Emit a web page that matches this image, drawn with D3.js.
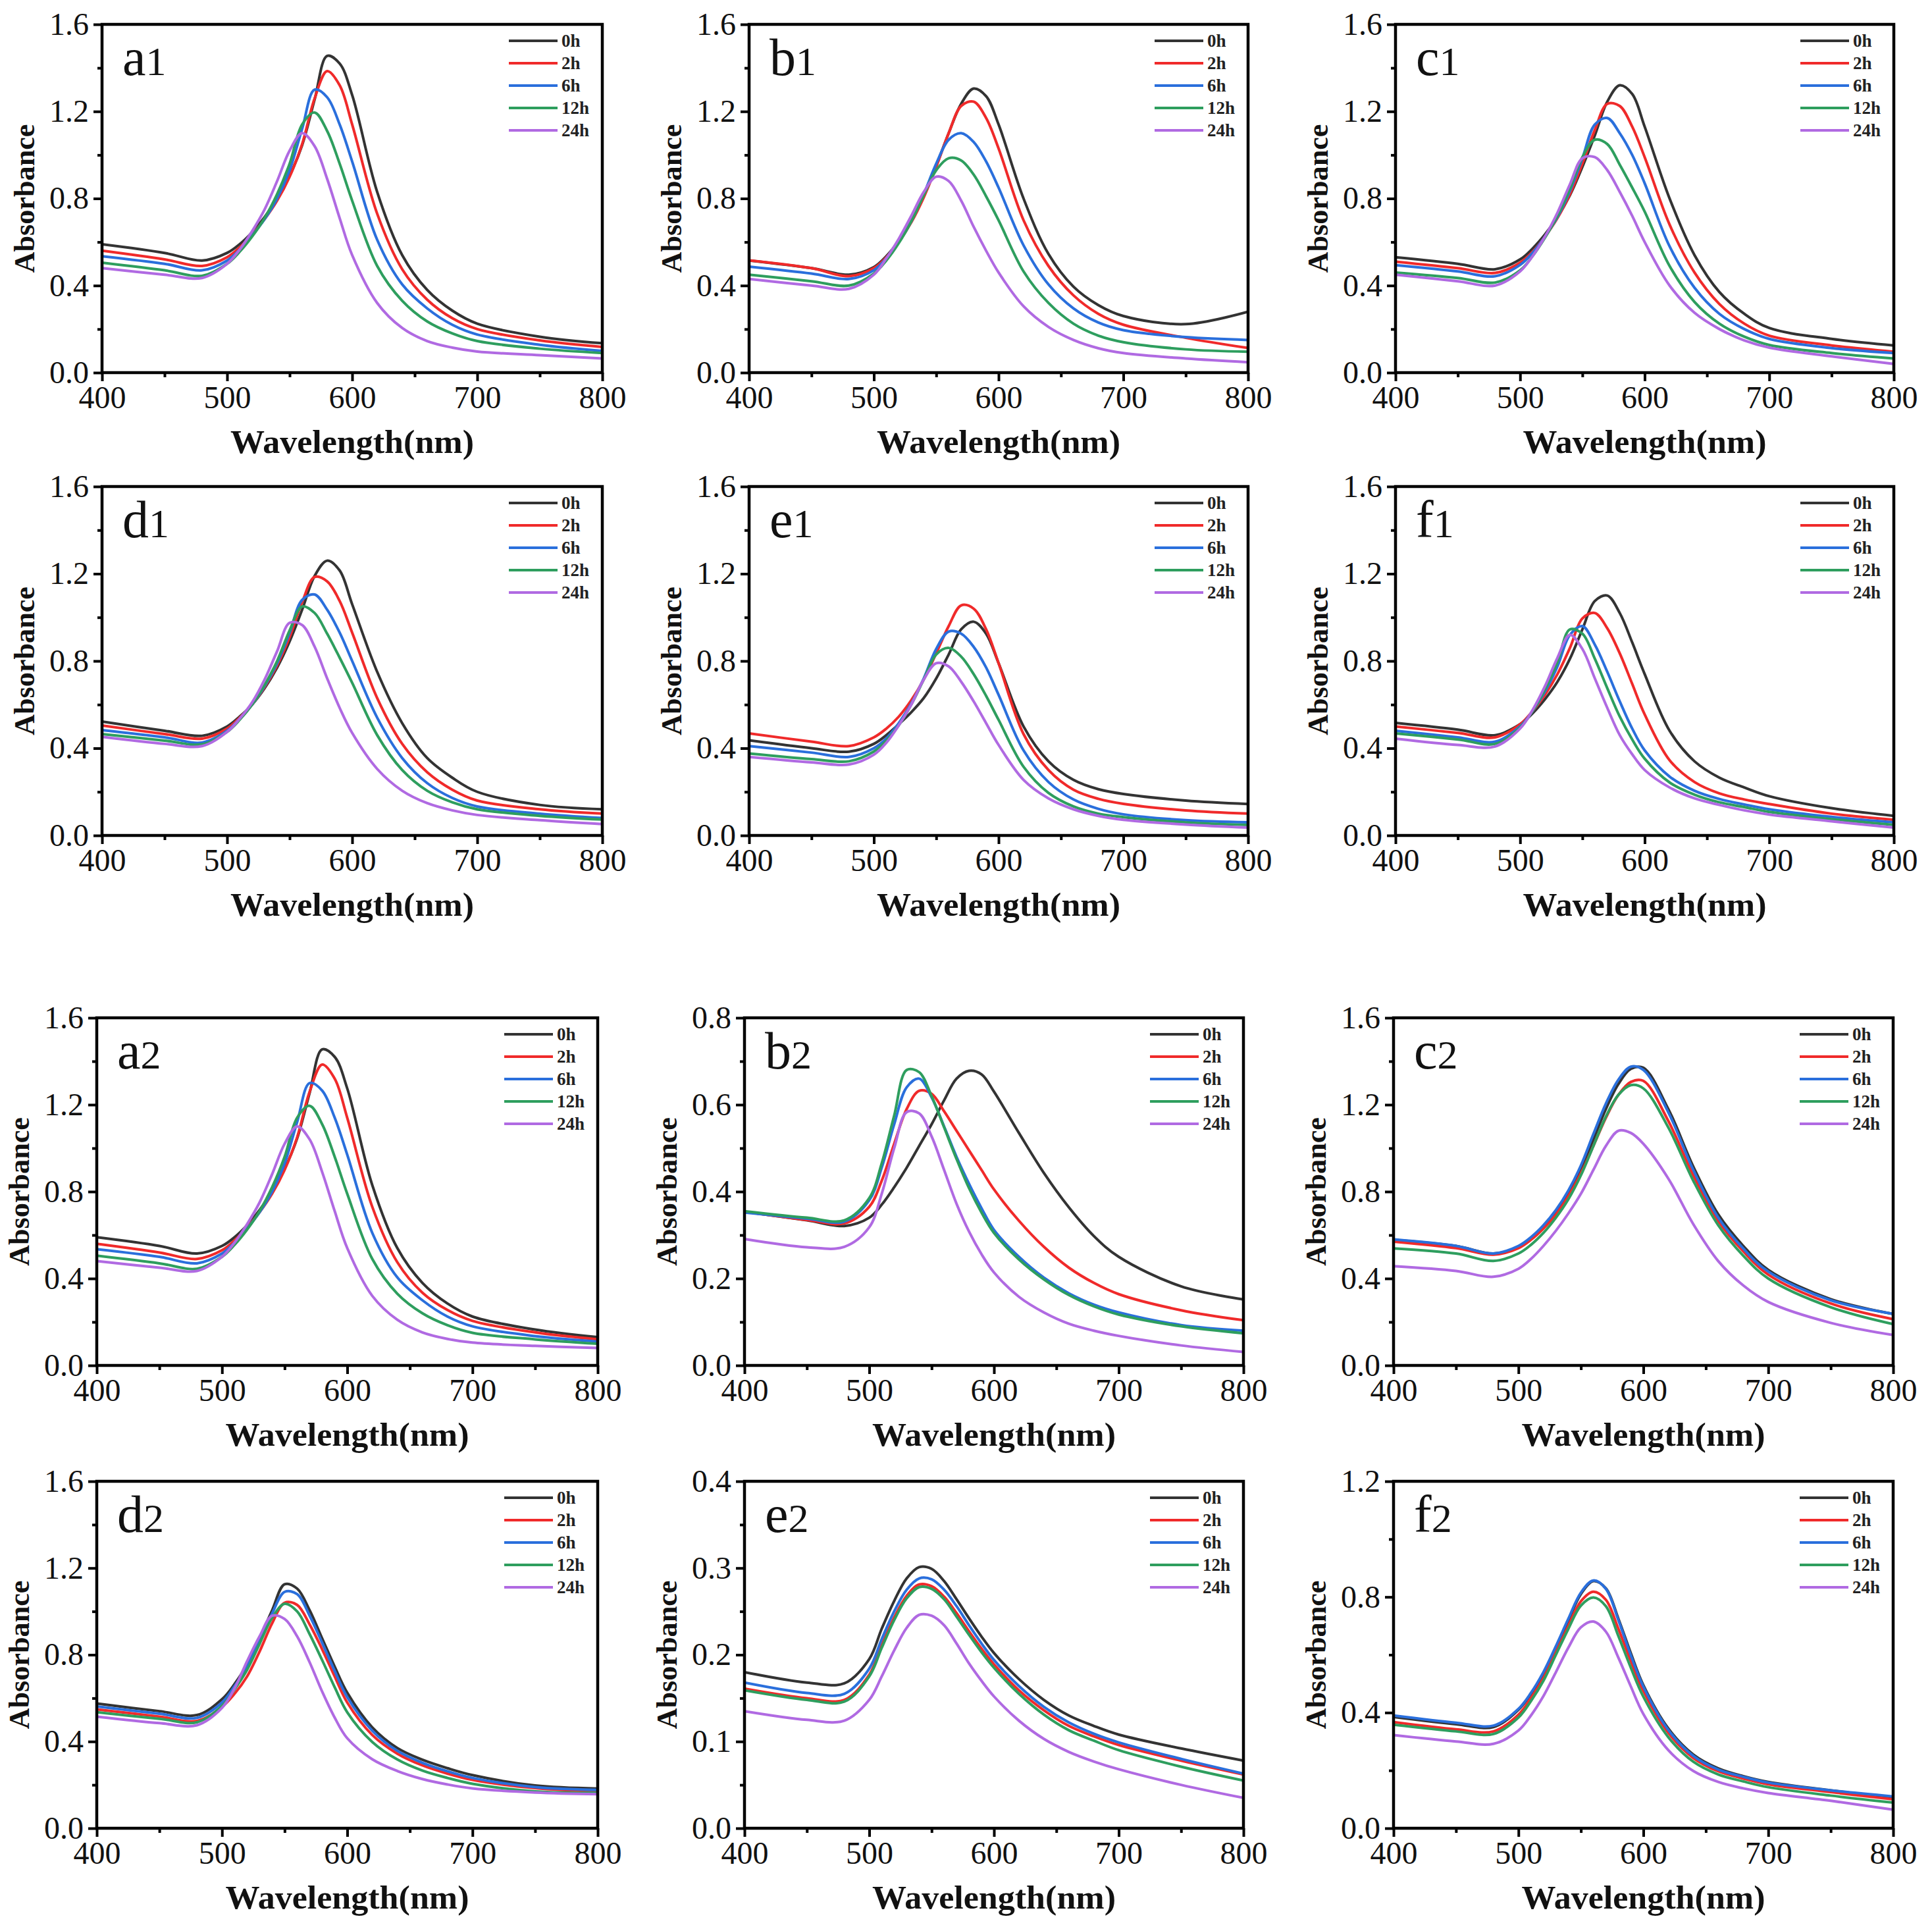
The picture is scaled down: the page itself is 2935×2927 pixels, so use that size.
<!DOCTYPE html>
<html>
<head>
<meta charset="utf-8">
<script src="https://cdn.jsdelivr.net/npm/d3@7"></script>
<style>
  body { margin: 0; background: #fff; }
  text { font-family: "Liberation Serif", "DejaVu Serif", serif; }
</style>
</head>
<body>
<div id="chart"></div>
<script>
// wavelengths (nm) shared by every series
const wavelengths = [400, 450, 480, 500, 510, 520, 530, 540, 550, 560, 570, 580, 590, 600, 620, 640, 660, 680, 700, 750, 800];
const times = ["0h", "2h", "6h", "12h", "24h"];
const colors = ["#333333", "#f02a2a", "#2a6fdc", "#2e9e5e", "#b06ae2"];

// absorbance values, one row per time (0h, 2h, 6h, 12h, 24h)
const a1 = [
  [.59, .55, .515, .55, .59, .645, .715, .80, .905, 1.045, 1.255, 1.455, 1.42, 1.275, .83, .54, .38, .285, .225, .165, .135],
  [.56, .52, .49, .53, .575, .635, .705, .79, .90, 1.05, 1.26, 1.385, 1.32, 1.14, .73, .475, .335, .25, .20, .148, .118],
  [.535, .50, .47, .515, .565, .63, .705, .80, .93, 1.12, 1.30, 1.265, 1.14, .97, .61, .405, .295, .22, .175, .128, .10],
  [.505, .47, .445, .50, .555, .625, .71, .82, .96, 1.14, 1.195, 1.11, .96, .79, .49, .33, .235, .18, .145, .11, .09],
  [.48, .45, .435, .50, .565, .65, .75, .88, 1.02, 1.10, 1.04, .89, .71, .54, .32, .205, .145, .115, .097, .08, .065]
];
const b1 = [
  [.515, .48, .45, .485, .535, .605, .695, .81, .95, 1.10, 1.235, 1.305, 1.27, 1.14, .80, .545, .395, .31, .26, .223, .28],
  [.516, .48, .443, .48, .53, .60, .69, .805, .945, 1.10, 1.225, 1.245, 1.17, 1.03, .70, .49, .355, .27, .22, .16, .113],
  [.487, .455, .43, .47, .525, .60, .695, .82, .96, 1.07, 1.10, 1.06, .97, .85, .585, .405, .295, .23, .195, .163, .15],
  [.45, .42, .40, .455, .515, .595, .695, .815, .93, .985, .975, .91, .81, .70, .465, .32, .225, .17, .14, .107, .096],
  [.43, .40, .385, .45, .525, .615, .72, .83, .90, .88, .79, .67, .56, .46, .305, .21, .15, .112, .09, .065, .048]
];
const c1 = [
  [.53, .50, .475, .52, .57, .635, .715, .815, .945, 1.09, 1.245, 1.32, 1.28, 1.13, .80, .54, .37, .27, .205, .155, .125],
  [.51, .48, .458, .505, .555, .625, .71, .82, .96, 1.115, 1.235, 1.225, 1.13, .99, .68, .46, .315, .225, .17, .125, .096],
  [.494, .465, .443, .495, .55, .625, .715, .835, .985, 1.14, 1.17, 1.10, 1.0, .87, .58, .39, .27, .20, .155, .113, .09],
  [.46, .435, .414, .47, .535, .62, .72, .845, .99, 1.07, 1.05, .955, .85, .74, .49, .325, .225, .165, .127, .09, .065],
  [.45, .42, .40, .465, .535, .625, .735, .865, .985, .99, .93, .83, .72, .60, .40, .275, .20, .148, .115, .075, .04]
];
const d1 = [
  [.522, .48, .457, .50, .545, .60, .675, .77, .89, 1.035, 1.19, 1.26, 1.215, 1.06, .75, .515, .355, .265, .20, .14, .12],
  [.504, .465, .444, .49, .54, .60, .68, .78, .91, 1.07, 1.185, 1.165, 1.075, .93, .63, .42, .29, .21, .16, .12, .10],
  [.483, .45, .426, .48, .535, .60, .685, .79, .93, 1.08, 1.105, 1.035, .93, .80, .54, .355, .24, .172, .133, .10, .08],
  [.465, .435, .418, .475, .53, .60, .69, .80, .94, 1.05, 1.02, .925, .815, .70, .46, .30, .205, .152, .12, .09, .073],
  [.452, .42, .41, .475, .535, .61, .715, .845, .975, .965, .865, .72, .585, .47, .305, .205, .148, .115, .094, .07, .052]
];
const e1 = [
  [.436, .40, .384, .42, .46, .51, .565, .63, .72, .83, .945, .98, .925, .79, .50, .34, .255, .212, .19, .16, .144],
  [.468, .43, .41, .45, .49, .545, .62, .715, .835, .96, 1.055, 1.04, .945, .79, .465, .30, .21, .168, .145, .115, .10],
  [.41, .38, .36, .40, .445, .515, .605, .72, .855, .935, .925, .865, .77, .645, .39, .245, .165, .122, .097, .07, .06],
  [.376, .35, .34, .385, .435, .505, .60, .715, .83, .86, .82, .74, .64, .53, .315, .195, .133, .10, .084, .06, .048],
  [.36, .335, .325, .37, .425, .505, .60, .715, .79, .775, .705, .615, .515, .415, .255, .17, .12, .09, .072, .05, .036]
];
const f1 = [
  [.516, .485, .46, .51, .56, .625, .705, .81, .945, 1.075, 1.10, 1.02, .885, .74, .48, .34, .265, .22, .18, .125, .09],
  [.50, .47, .45, .51, .57, .645, .74, .86, .995, 1.02, .95, .835, .695, .555, .345, .245, .193, .165, .144, .10, .072],
  [.48, .45, .43, .50, .57, .66, .775, .92, .96, .875, .75, .615, .49, .39, .27, .205, .167, .142, .12, .085, .06],
  [.468, .44, .42, .495, .57, .67, .795, .945, .925, .81, .675, .545, .44, .352, .243, .187, .152, .13, .108, .075, .048],
  [.444, .415, .408, .49, .575, .685, .815, .92, .855, .72, .585, .46, .372, .30, .22, .17, .14, .115, .096, .065, .036]
];
const a2 = [
  [.59, .55, .515, .55, .59, .645, .715, .80, .905, 1.045, 1.255, 1.455, 1.42, 1.275, .83, .54, .38, .285, .225, .165, .13],
  [.56, .52, .49, .53, .575, .635, .705, .79, .90, 1.05, 1.26, 1.385, 1.32, 1.14, .73, .475, .335, .255, .205, .152, .12],
  [.535, .50, .47, .515, .565, .63, .705, .80, .93, 1.12, 1.30, 1.265, 1.14, .97, .61, .405, .30, .225, .18, .135, .11],
  [.505, .47, .445, .50, .555, .625, .71, .82, .96, 1.14, 1.195, 1.11, .96, .79, .49, .33, .24, .185, .15, .12, .10],
  [.48, .45, .435, .50, .565, .65, .75, .88, 1.02, 1.10, 1.04, .89, .71, .54, .32, .21, .152, .122, .105, .09, .08]
];
const b2 = [
  [.354, .334, .321, .34, .37, .41, .455, .505, .555, .61, .66, .678, .67, .63, .535, .443, .364, .298, .25, .182, .152],
  [.354, .335, .327, .365, .425, .51, .59, .632, .625, .585, .54, .495, .45, .405, .333, .273, .225, .19, .164, .127, .104],
  [.352, .338, .331, .38, .455, .555, .64, .66, .617, .55, .48, .418, .362, .312, .25, .202, .166, .14, .122, .093, .08],
  [.355, .34, .334, .385, .465, .575, .68, .675, .62, .548, .475, .408, .352, .305, .244, .198, .162, .136, .117, .09, .074],
  [.291, .272, .273, .318, .395, .50, .583, .58, .527, .45, .372, .308, .256, .214, .158, .122, .096, .08, .068, .046, .031]
];
const c2 = [
  [.578, .55, .515, .545, .585, .64, .71, .795, .905, 1.04, 1.18, 1.295, 1.365, 1.37, 1.18, .915, .695, .55, .44, .305, .237],
  [.57, .54, .51, .54, .578, .63, .695, .78, .885, 1.01, 1.14, 1.245, 1.305, 1.31, 1.125, .875, .665, .525, .418, .285, .213],
  [.58, .55, .515, .55, .59, .645, .715, .805, .92, 1.065, 1.205, 1.315, 1.375, 1.36, 1.165, .90, .68, .538, .432, .30, .237],
  [.539, .515, .481, .515, .555, .61, .68, .765, .875, 1.01, 1.145, 1.245, 1.29, 1.275, 1.095, .85, .645, .505, .40, .268, .19],
  [.457, .435, .408, .445, .49, .55, .62, .70, .79, .90, 1.01, 1.08, 1.07, 1.02, .86, .65, .48, .368, .292, .196, .14]
];
const d2 = [
  [.575, .54, .522, .595, .665, .755, .875, 1.005, 1.125, 1.105, 1.005, .875, .745, .625, .465, .37, .316, .277, .245, .197, .183],
  [.548, .515, .495, .56, .62, .70, .815, .945, 1.04, 1.03, .94, .825, .70, .58, .43, .344, .29, .252, .223, .185, .17],
  [.562, .528, .509, .58, .655, .745, .865, .99, 1.09, 1.08, .98, .855, .725, .605, .45, .357, .302, .263, .232, .19, .177],
  [.535, .505, .489, .565, .64, .73, .85, .97, 1.035, 1.0, .895, .775, .65, .535, .398, .317, .266, .232, .205, .17, .163],
  [.515, .485, .475, .555, .645, .77, .885, .98, .965, .885, .765, .63, .51, .415, .318, .264, .227, .202, .184, .165, .157]
];
const e2 = [
  [.18, .168, .167, .195, .23, .262, .288, .301, .299, .285, .264, .242, .221, .202, .172, .148, .13, .118, .108, .092, .078],
  [.161, .15, .148, .177, .211, .243, .268, .281, .279, .267, .248, .227, .207, .189, .159, .136, .118, .106, .096, .078, .062],
  [.168, .156, .155, .184, .218, .25, .275, .288, .287, .275, .256, .234, .213, .194, .164, .14, .122, .109, .099, .08, .063],
  [.159, .148, .146, .175, .208, .24, .265, .278, .276, .264, .244, .223, .203, .185, .155, .131, .113, .101, .09, .071, .055],
  [.135, .125, .124, .148, .175, .205, .231, .246, .245, .234, .213, .19, .17, .152, .124, .103, .088, .077, .068, .05, .035]
];
const f2 = [
  [.385, .36, .35, .41, .465, .535, .625, .72, .81, .855, .83, .725, .605, .495, .345, .255, .207, .18, .16, .131, .107],
  [.367, .342, .335, .393, .45, .52, .61, .70, .785, .818, .79, .69, .578, .475, .33, .243, .197, .172, .152, .125, .10],
  [.39, .365, .355, .413, .468, .54, .63, .725, .815, .857, .828, .72, .598, .49, .34, .25, .203, .178, .158, .131, .11],
  [.358, .335, .326, .383, .44, .51, .60, .69, .77, .798, .768, .665, .555, .455, .315, .23, .186, .162, .142, .113, .089],
  [.322, .30, .292, .338, .39, .457, .54, .625, .695, .715, .68, .59, .49, .395, .27, .198, .16, .138, .122, .095, .064]
];

// y-axis ranges and major tick step per panel
const panelNames = ["a1", "b1", "c1", "d1", "e1", "f1", "a2", "b2", "c2", "d2", "e2", "f2"];
const panelData = [a1, b1, c1, d1, e1, f1, a2, b2, c2, d2, e2, f2];
const yMaxes = [1.6, 1.6, 1.6, 1.6, 1.6, 1.6, 1.6, 0.8, 1.6, 1.6, 0.4, 1.2];
const ySteps = [0.4, 0.4, 0.4, 0.4, 0.4, 0.4, 0.4, 0.2, 0.4, 0.4, 0.1, 0.4];
const xTicks = [400, 500, 600, 700, 800];
const xMinor = [450, 550, 650, 750];

// frame boxes (pixels)
const rowBoxes = [[37, 566], [739, 1269], [1546, 2074], [2250, 2777]];
const colBoxesTop = [[155, 915], [1138, 1896], [2120, 2877]];
const colBoxesBottom = [[147, 908], [1131, 1889], [2117, 2876]];

const serif = '"Liberation Serif", "DejaVu Serif", serif';

const svg = d3.select("#chart").append("svg")
  .attr("width", 2935)
  .attr("height", 2927)
  .attr("font-family", serif);

svg.append("rect")
  .attr("width", 2935).attr("height", 2927)
  .attr("fill", "#fff");

panelNames.forEach(function (name, i) {
  const row = Math.floor(i / 3), col = i % 3;
  const cols = row < 2 ? colBoxesTop : colBoxesBottom;
  const left = cols[col][0], right = cols[col][1];
  const top = rowBoxes[row][0], bottom = rowBoxes[row][1];
  const w = right - left, h = bottom - top;

  const x = d3.scaleLinear().domain([400, 800]).range([0, w]);
  const y = d3.scaleLinear().domain([0, yMaxes[i]]).range([h, 0]);

  const g = svg.append("g").attr("transform", `translate(${left},${top})`);

  g.append("clipPath").attr("id", "clip-" + name)
    .append("rect").attr("width", w).attr("height", h);

  // curves
  const line = d3.line()
    .x((d, k) => x(wavelengths[k]))
    .y(d => y(d))
    .curve(d3.curveCatmullRom.alpha(0.5));

  g.append("g").attr("clip-path", `url(#clip-${name})`)
    .selectAll("path")
    .data(panelData[i])
    .join("path")
    .attr("d", line)
    .attr("fill", "none")
    .attr("stroke", (d, k) => colors[k])
    .attr("stroke-width", 4)
    .attr("stroke-linejoin", "round");

  // axes
  const step = ySteps[i];
  const n = Math.round(yMaxes[i] / step);
  const yMajor = d3.range(0, n + 1).map(k => +(k * step).toFixed(2));
  const yMinor = d3.range(0, n).map(k => +((k + 0.5) * step).toFixed(3));

  const styleAxis = sel => {
    sel.attr("font-family", serif);
    sel.select(".domain").remove();
    sel.selectAll(".tick line").attr("stroke", "#000").attr("stroke-width", 4);
    sel.selectAll(".tick text")
      .attr("fill", "#111")
      .attr("font-family", serif)
      .style("font-family", serif)
      .style("font-size", "48px");
  };

  g.append("g").attr("transform", `translate(0,${h})`)
    .call(d3.axisBottom(x).tickValues(xTicks).tickSize(13).tickPadding(7).tickFormat(d3.format("d")))
    .call(styleAxis);
  g.append("g").attr("transform", `translate(0,${h})`)
    .call(d3.axisBottom(x).tickValues(xMinor).tickSize(7).tickFormat(""))
    .call(styleAxis);

  g.append("g")
    .call(d3.axisLeft(y).tickValues(yMajor).tickSize(13).tickPadding(7).tickFormat(d3.format(".1f")))
    .call(styleAxis);
  g.append("g")
    .call(d3.axisLeft(y).tickValues(yMinor).tickSize(7).tickFormat(""))
    .call(styleAxis);

  // frame
  g.append("rect")
    .attr("width", w).attr("height", h)
    .attr("fill", "none")
    .attr("stroke", "#000")
    .attr("stroke-width", 4.5);

  // axis titles
  g.append("text")
    .attr("x", w / 2).attr("y", h + 122)
    .attr("text-anchor", "middle")
    .attr("font-family", serif)
    .attr("font-weight", "bold")
    .attr("font-size", 50)
    .attr("textLength", 370)
    .attr("lengthAdjust", "spacingAndGlyphs")
    .attr("fill", "#111")
    .text("Wavelength(nm)");

  g.append("text")
    .attr("transform", `translate(-103,${h / 2}) rotate(-90)`)
    .attr("text-anchor", "middle")
    .attr("font-family", serif)
    .attr("font-weight", "bold")
    .attr("font-size", 45)
    .attr("textLength", 226)
    .attr("lengthAdjust", "spacingAndGlyphs")
    .attr("fill", "#111")
    .text("Absorbance");

  // panel label
  const lab = g.append("text")
    .attr("x", 31).attr("y", 77)
    .attr("font-family", serif)
    .attr("fill", "#111");
  lab.append("tspan").attr("font-size", 80).text(name[0]);
  lab.append("tspan").attr("font-size", 62).text(name[1]);

  // legend
  const legend = g.append("g").attr("transform", `translate(${w - 142},25)`);
  times.forEach(function (t, k) {
    const ly = k * 34;
    legend.append("line")
      .attr("x1", 0).attr("x2", 74)
      .attr("y1", ly).attr("y2", ly)
      .attr("stroke", colors[k])
      .attr("stroke-width", 4);
    legend.append("text")
      .attr("x", 80).attr("y", ly)
      .attr("dy", "0.35em")
      .attr("font-family", serif)
      .attr("font-size", 27)
      .attr("font-weight", "bold")
      .attr("fill", "#222")
      .text(t);
  });
});
</script>
</body>
</html>
